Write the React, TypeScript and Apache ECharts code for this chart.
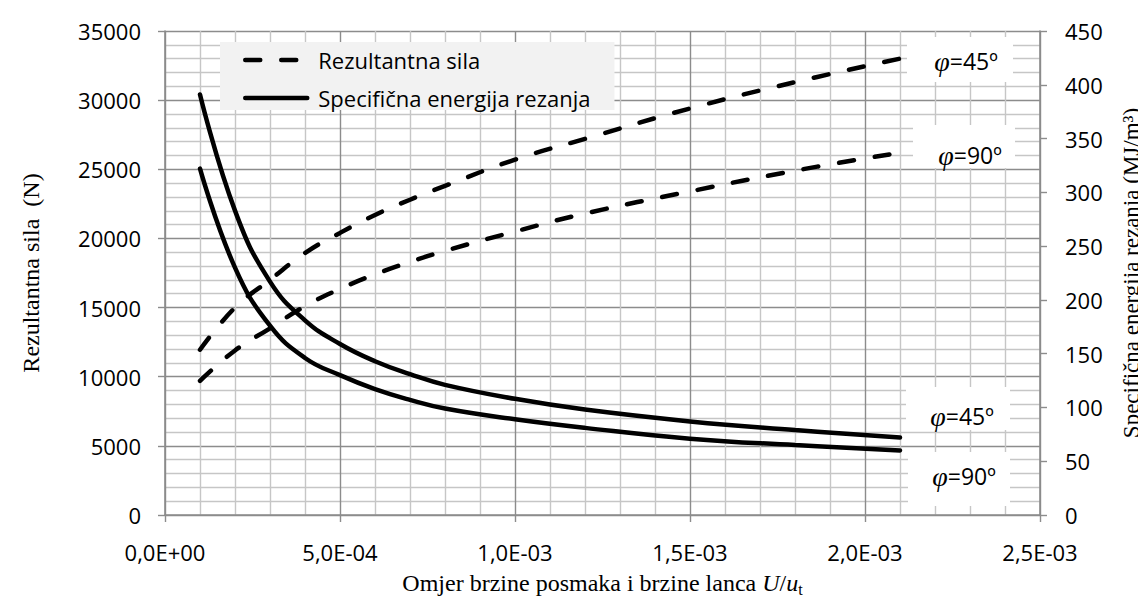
import React, { useEffect, useRef } from "react";
import * as echarts from "echarts";

// ---- Data ----
const uRatio = [1e-4, 2e-4, 3e-4, 4e-4, 5e-4, 6e-4, 7e-4, 8e-4, 1e-3, 1.2e-3, 1.5e-3, 1.8e-3, 2.1e-3];
const forcePhi45 = [11950, 15000, 17000, 18950, 20400, 21700, 22800, 23800, 25700, 27200, 29400, 31300, 33000];
const forcePhi90 = [9700, 11900, 13500, 15100, 16350, 17400, 18300, 19100, 20500, 21800, 23400, 24900, 26200];
const energyPhi45 = [391, 283, 217, 181, 159, 143, 131, 121, 108, 98, 87, 79, 72];
const energyPhi90 = [322, 230, 176, 146, 130, 117, 107, 99, 89, 81, 71, 65, 60];

const xTickLabels = ["0,0E+00", "5,0E-04", "1,0E-03", "1,5E-03", "2,0E-03", "2,5E-03"];
const seriesNames = ["Rezultantna sila", "Specifična energija rezanja"];
const phiLabels = ["=45º", "=90º", "=45º", "=90º"];

const SANS = "'Open Sans', 'Noto Sans', sans-serif";
const SERIF = "'Liberation Serif', 'DejaVu Serif', serif";

function zip(xs: number[], ys: number[]) {
  return xs.map((x, i) => [x, ys[i]]);
}

export default function App() {
  const ref = useRef<HTMLDivElement>(null);

  useEffect(() => {
    if (!ref.current) return;
    const chart = echarts.init(ref.current, undefined, { renderer: "svg" });

    const majorLine = { color: "#8c8c8c", width: 1.4 };
    const minorLine = { color: "#c6c6c6", width: 1.4 };
    const dashedStyle = { color: "#000", width: 4.5, type: [15, 21] as any, cap: "round" as any };
    const solidStyle = { color: "#000", width: 4.5, cap: "round" as any };

    const phiBox = (x: number, y: number, w: number, h: number, tx: number, ty: number, t: string) => ({
      type: "group",
      children: [
        { type: "rect", shape: { x, y, width: w, height: h }, style: { fill: "#fff" }, z: 1 },
        {
          type: "text",
          x: tx,
          y: ty,
          z: 5,
          style: {
            text: "{p|φ}{t|" + t + "}",
            align: "center",
            verticalAlign: "middle",
            rich: {
              p: { fontFamily: SERIF, fontStyle: "italic", fontSize: 28, fill: "#000" },
              t: { fontFamily: SANS, fontSize: 23, fill: "#000" },
            },
          },
        },
      ],
    });

    const lineSeries = (name: string, axis: number, ys: number[], style: any) => ({
      name,
      type: "line",
      yAxisIndex: axis,
      data: zip(uRatio, ys),
      smooth: 0.45,
      symbol: "none",
      itemStyle: { color: "#000" },
      lineStyle: style,
    });

    chart.setOption({
      animation: false,
      backgroundColor: "#fff",
      grid: { left: 157, right: 114, top: 23, bottom: 89, containLabel: false },
      legend: {
        data: [
          { name: seriesNames[0], lineStyle: { color: "#000", width: 4.5, type: [15, 21], cap: "round" } },
          { name: seriesNames[1], lineStyle: { color: "#000", width: 4.5, type: "solid", cap: "round" } },
        ],
        orient: "vertical",
        left: 212,
        top: 34,
        backgroundColor: "#f2f2f2",
        padding: [7, 24, 1, 23],
        itemWidth: 62,
        itemHeight: 14,
        itemGap: 16,
        itemStyle: { color: "transparent", borderWidth: 0, opacity: 0 },
        textStyle: { fontFamily: SANS, fontSize: 22, color: "#000", padding: [0, 0, 0, 6] },
      },
      xAxis: {
        type: "value",
        min: 0,
        max: 0.0025,
        interval: 0.0005,
        name: "{n|Omjer brzine posmaka i brzine lanca }{i|U}{n|/}{i|u}{s|t}",
        nameLocation: "middle",
        nameGap: 54,
        nameTextStyle: {
          fontFamily: SERIF,
          fontSize: 24,
          color: "#000",
          rich: {
            n: { fontFamily: SERIF, fontSize: 24, color: "#000", lineHeight: 28, verticalAlign: "middle" },
            i: { fontFamily: SERIF, fontStyle: "italic", fontSize: 24, color: "#000", lineHeight: 28, verticalAlign: "middle" },
            s: { fontFamily: SERIF, fontSize: 16, color: "#000", lineHeight: 28, verticalAlign: "bottom" },
          },
        },
        axisLine: { lineStyle: { color: "#8c8c8c", width: 1.6 } },
        axisTick: { show: true, inside: false, length: 7, lineStyle: { color: "#8c8c8c", width: 1.4 } },
        axisLabel: {
          margin: 26,
          fontFamily: SANS,
          fontSize: 22,
          color: "#000",
          formatter: (v: number) => xTickLabels[Math.round(v / 0.0005)] ?? "",
        },
        splitLine: { show: true, lineStyle: majorLine },
        minorTick: { show: false, splitNumber: 5 },
        minorSplitLine: { show: true, lineStyle: minorLine },
      },
      yAxis: [
        {
          type: "value",
          min: 0,
          max: 35000,
          interval: 5000,
          name: "Rezultantna sila  (N)",
          nameLocation: "middle",
          nameRotate: 90,
          nameGap: 122,
          nameTextStyle: { fontFamily: SERIF, fontSize: 24, color: "#000" },
          axisLine: { show: true, lineStyle: { color: "#8c8c8c", width: 1.6 } },
          axisTick: { show: true, inside: false, length: 7, lineStyle: { color: "#8c8c8c", width: 1.4 } },
          axisLabel: { margin: 24, fontFamily: SANS, fontSize: 22, color: "#000", formatter: (v: number) => String(v) },
          splitLine: { show: true, lineStyle: majorLine },
          minorTick: { show: false, splitNumber: 5 },
          minorSplitLine: { show: true, lineStyle: minorLine },
        },
        {
          type: "value",
          position: "right",
          min: 0,
          max: 450,
          interval: 50,
          name: "Specifična energija rezanja (MJ/m³)",
          nameLocation: "middle",
          nameRotate: 90,
          nameGap: 80,
          nameTextStyle: { fontFamily: SERIF, fontSize: 23, color: "#000" },
          axisLine: { show: true, lineStyle: { color: "#8c8c8c", width: 1.6 } },
          axisTick: { show: true, inside: false, length: 7, lineStyle: { color: "#8c8c8c", width: 1.4 } },
          axisLabel: { margin: 25, fontFamily: SANS, fontSize: 22, color: "#000" },
          splitLine: { show: false },
        },
      ],
      series: [
        lineSeries(seriesNames[0], 0, forcePhi45, dashedStyle),
        lineSeries(seriesNames[0], 0, forcePhi90, dashedStyle),
        lineSeries(seriesNames[1], 1, energyPhi45, solidStyle),
        lineSeries(seriesNames[1], 1, energyPhi90, solidStyle),
      ],
      graphic: [
        phiBox(899, 29, 106, 45, 958, 53, phiLabels[0]),
        phiBox(905, 117, 102, 43, 962, 147, phiLabels[1]),
        phiBox(898, 379, 104, 43, 954, 408, phiLabels[2]),
        phiBox(900, 444, 102, 54, 956, 468, phiLabels[3]),
      ],
    });

    return () => chart.dispose();
  }, []);

  return <div ref={ref} style={{ width: 1146, height: 596 }} />;
}
